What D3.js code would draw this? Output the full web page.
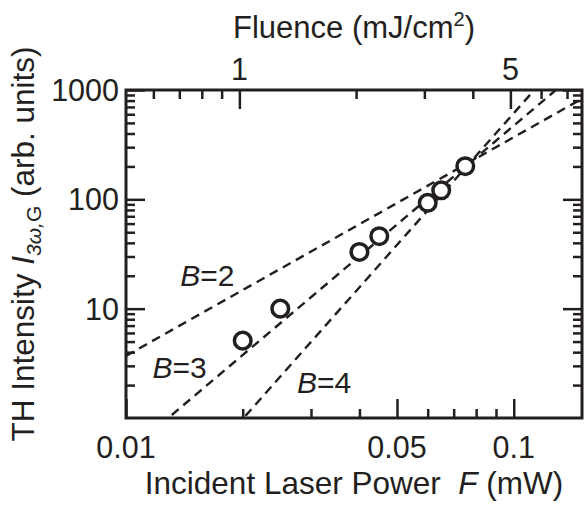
<!DOCTYPE html>
<html>
  <head>
    <style>
      body { margin: 0; background: #fff; }
      svg { display: block; }
      text { font-family: "Liberation Sans", Arial, sans-serif; fill: #231f20; }
      .tick line { stroke: #231f20; stroke-width: 2.5; }
      .guide { fill: none; stroke: #231f20; stroke-width: 2.4; stroke-dasharray: 9,6; }
      .dot { fill: #fff; stroke: #231f20; stroke-width: 3.5; }
    </style>
  </head>
  <body>
    <svg width="585" height="506"></svg>
    <script src="https://d3js.org/d3.v7.min.js"></script>
    <script>
      // measured points: incident power (mW) and TH intensity (arb. units)
      var power = [0.020, 0.025, 0.040, 0.045, 0.060, 0.065, 0.075];
      var intensity = [5.1, 10, 33, 46, 93, 121, 201];

      // power-law guide lines, each anchored at one point
      var guideB = [2, 3, 4];
      var guideX = [0.01, 0.01285, 0.0201];
      var guideY = [3.7, 1, 1];
      var guideLabels = ["2", "3", "4"];
      var guideLabelPos = [[0.0138, 16], [0.0117, 2.3], [0.0276, 1.7]];

      var xTickLabels = [0.01, 0.05, 0.1];
      var xMinor = [0.02, 0.03, 0.04, 0.06, 0.07, 0.08, 0.09];
      var yTickLabels = [10, 100, 1000];
      var fluenceLabels = [1, 5];
      var fluenceMinor = [0.6, 0.7, 0.8, 0.9, 2, 3, 4, 6, 7];
      var fluencePerPower = 51; // mJ/cm^2 per mW

      var svg = d3.select("svg");
      var margin = {top: 90, right: 3, bottom: 88, left: 126};
      var width = 585 - margin.left - margin.right,
          height = 506 - margin.top - margin.bottom;

      var x = d3.scaleLog().domain([0.01, 0.15]).range([0, width]);
      var xTop = d3.scaleLog()
        .domain([0.01 * fluencePerPower, 0.15 * fluencePerPower])
        .range([0, width]);
      var y = d3.scaleLog().domain([1, 1000]).range([height, 0]);

      var g = svg.append("g")
        .attr("transform", "translate(" + margin.left + "," + margin.top + ")");

      var yMinor = [];
      [1, 10, 100].forEach(function(d) {
        for (var k = 2; k <= 9; k++) yMinor.push(d * k);
      });

      function tickGroup(axis, tr) {
        var a = g.append("g").attr("transform", tr).call(axis);
        a.select(".domain").remove();
        a.selectAll("text").remove();
        return a;
      }

      // bottom
      tickGroup(d3.axisBottom(x).tickValues(xMinor).tickSize(-9), "translate(0," + height + ")");
      tickGroup(d3.axisBottom(x).tickValues(xTickLabels).tickSize(-19), "translate(0," + height + ")");
      // top
      tickGroup(d3.axisTop(xTop).tickValues(fluenceMinor).tickSize(-9), "translate(0,0)");
      tickGroup(d3.axisTop(xTop).tickValues(fluenceLabels).tickSize(-19), "translate(0,0)");
      // left / right
      tickGroup(d3.axisLeft(y).tickValues(yMinor).tickSize(-9), "translate(0,0)");
      tickGroup(d3.axisLeft(y).tickValues(yTickLabels).tickSize(-19), "translate(0,0)");
      tickGroup(d3.axisRight(y).tickValues(yMinor).tickSize(-9), "translate(" + width + ",0)");
      tickGroup(d3.axisRight(y).tickValues(yTickLabels).tickSize(-19), "translate(" + width + ",0)");

      // guide lines
      svg.append("defs").append("clipPath").attr("id", "plotclip")
        .append("rect").attr("width", width).attr("height", height);

      var line = d3.line()
        .x(function(d) { return x(d[0]); })
        .y(function(d) { return y(d[1]); });

      var xd = x.domain();
      var guides = g.append("g").attr("clip-path", "url(#plotclip)");
      guideB.forEach(function(b, i) {
        var ends = xd.map(function(v) {
          return [v, guideY[i] * Math.pow(v / guideX[i], b)];
        });
        guides.append("path").attr("class", "guide").attr("d", line(ends));
      });

      // data
      g.selectAll(".dot")
        .data(power)
        .enter().append("circle")
          .attr("class", "dot")
          .attr("cx", function(d) { return x(d); })
          .attr("cy", function(d, i) { return y(intensity[i]); })
          .attr("r", 8.3);

      // frame
      g.append("rect")
        .attr("width", width).attr("height", height)
        .attr("fill", "none").attr("stroke", "#231f20").attr("stroke-width", 3);

      // tick labels
      g.selectAll(".xl").data(xTickLabels).enter().append("text")
        .attr("x", function(d) { return x(d); })
        .attr("y", height + 40)
        .attr("text-anchor", "middle")
        .style("font-size", "30.5px")
        .text(function(d) { return d; });

      g.selectAll(".yl").data(yTickLabels).enter().append("text")
        .attr("x", -7)
        .attr("y", function(d) { return y(d) + 11; })
        .attr("text-anchor", "end")
        .style("font-size", "30.5px")
        .text(function(d) { return d; });

      g.selectAll(".tl").data(fluenceLabels).enter().append("text")
        .attr("x", function(d) { return xTop(d); })
        .attr("y", -10)
        .attr("text-anchor", "middle")
        .style("font-size", "30.5px")
        .text(function(d) { return d; });

      // guide labels
      guideLabels.forEach(function(t, i) {
        var lab = g.append("text")
          .attr("x", x(guideLabelPos[i][0]))
          .attr("y", y(guideLabelPos[i][1]))
          .style("font-size", "30px");
        lab.append("tspan").style("font-style", "italic").text("B");
        lab.append("tspan").text("=" + t);
      });

      // axis titles
      var xt = svg.append("text")
        .attr("x", margin.left + width / 2)
        .attr("y", 494)
        .attr("text-anchor", "middle")
        .style("font-size", "31.5px");
      xt.append("tspan").text("Incident Laser Power\u00a0 ");
      xt.append("tspan").style("font-style", "italic").text("F");
      xt.append("tspan").text(" (mW)");

      var tt = svg.append("text")
        .attr("x", margin.left + width / 2)
        .attr("y", 38)
        .attr("text-anchor", "middle")
        .style("font-size", "31px");
      tt.append("tspan").text("Fluence (mJ/cm");
      tt.append("tspan").attr("dy", -12).style("font-size", "20px").text("2");
      tt.append("tspan").attr("dy", 12).text(")");

      var yt = svg.append("text")
        .attr("transform", "translate(34,244) rotate(-90)")
        .attr("text-anchor", "middle")
        .style("font-size", "31.5px");
      yt.append("tspan").text("TH Intensity ");
      yt.append("tspan").style("font-style", "italic").text("I");
      yt.append("tspan").attr("dy", 7).style("font-size", "21px").style("font-style", "italic").text("3\u03c9,");
      yt.append("tspan").style("font-size", "21px").text("G");
      yt.append("tspan").attr("dy", -7).text(" (arb. units)");
    </script>
  </body>
</html>
